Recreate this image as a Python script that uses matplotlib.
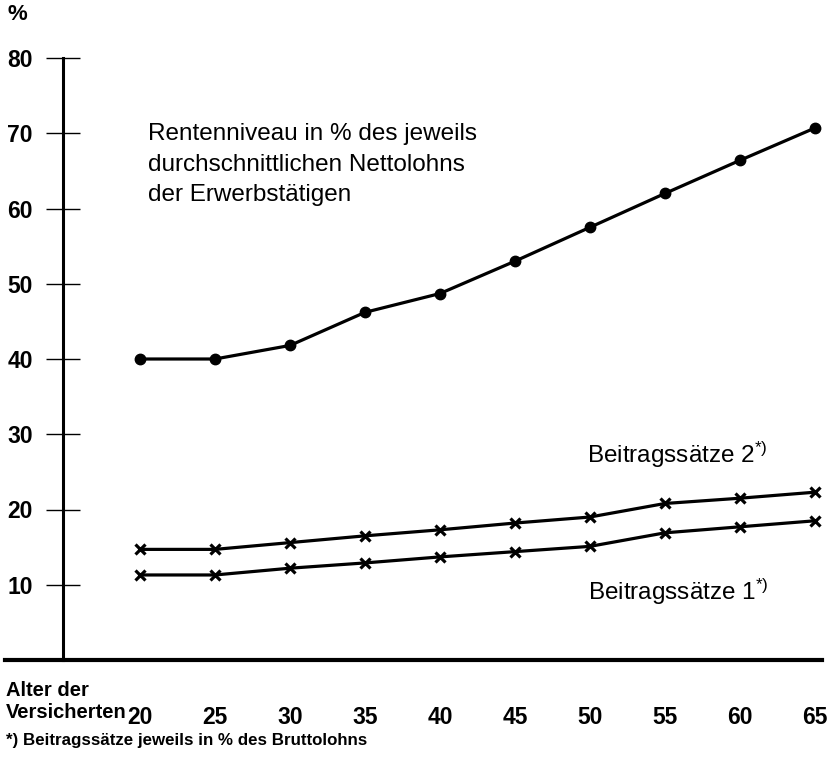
import matplotlib.pyplot as plt

plt.rcParams['font.family'] = ['Liberation Sans', 'DejaVu Sans']
plt.rcParams['mathtext.default'] = 'regular'

# Alter der Versicherten
ages = [20, 25, 30, 35, 40, 45, 50, 55, 60, 65]
# Rentenniveau in % des Nettolohns
rentenniveau = [40.0, 40.0, 41.8, 46.2, 48.7, 53.0, 57.5, 62.0, 66.4, 70.7]
# Beitragssätze in % des Bruttolohns
beitrag_2 = [14.7, 14.7, 15.6, 16.5, 17.3, 18.2, 19.0, 20.8, 21.5, 22.3]
beitrag_1 = [11.3, 11.3, 12.2, 12.9, 13.7, 14.4, 15.1, 16.9, 17.7, 18.5]
y_ticks = [10, 20, 30, 40, 50, 60, 70, 80]

W, H = 834, 760
fig = plt.figure(figsize=(W / 100, H / 100), dpi=100)
ax = fig.add_axes([5 / W, 1 - 660 / H, 817 / W, 602 / H])

ax.plot(ages, rentenniveau, color='black', lw=2.3, marker='o', markersize=7.5,
        clip_on=False)
ax.plot(ages, beitrag_2, color='black', lw=2.3, marker='x', markersize=7,
        mew=2.3, clip_on=False)
ax.plot(ages, beitrag_1, color='black', lw=2.3, marker='x', markersize=7,
        mew=2.3, clip_on=False)

ax.set_xlim(11.0, 65.47)
ax.set_ylim(0, 80)

for s in ['top', 'right']:
    ax.spines[s].set_visible(False)
ax.spines['left'].set_position(('data', 14.85))
ax.spines['left'].set_bounds(0, 80)
ax.spines['left'].set_linewidth(2.2)
ax.spines['bottom'].set_linewidth(3.0)

ax.set_yticks(y_ticks)
ax.set_yticklabels([str(v) for v in y_ticks], fontsize=16.5, fontweight='bold')
ax.tick_params(axis='y', direction='inout', length=25, width=1.0, pad=9)

ax.set_xticks(ages)
ax.set_xticklabels([str(a) for a in ages], fontsize=16.5, fontweight='bold')
ax.tick_params(axis='x', length=0, pad=33)

ax.text(20.53, 71.3, 'Rentenniveau in % des jeweils\ndurchschnittlichen Nettolohns\nder Erwerbstätigen',
        fontsize=17.5, va='top', ha='left', linespacing=1.5)
ax.text(49.8, 27.2, 'Beitragssätze 2$^{*)}$', fontsize=17.5, va='center', ha='left')
ax.text(49.9, 9.0, 'Beitragssätze 1$^{*)}$', fontsize=17.5, va='center', ha='left')

fig.text(7 / W, 1 - 15 / H, '%', fontsize=16, fontweight='bold', va='center', ha='left')
fig.text(6 / W, 1 - 690 / H, 'Alter der', fontsize=14.5, fontweight='bold', va='center', ha='left')
fig.text(6 / W, 1 - 713 / H, 'Versicherten', fontsize=14.5, fontweight='bold', va='center', ha='left')
fig.text(6 / W, 1 - 741 / H, '*) Beitragssätze jeweils in % des Bruttolohns',
         fontsize=12.2, fontweight='bold', va='center', ha='left')

fig.savefig('out.png', dpi=100)
